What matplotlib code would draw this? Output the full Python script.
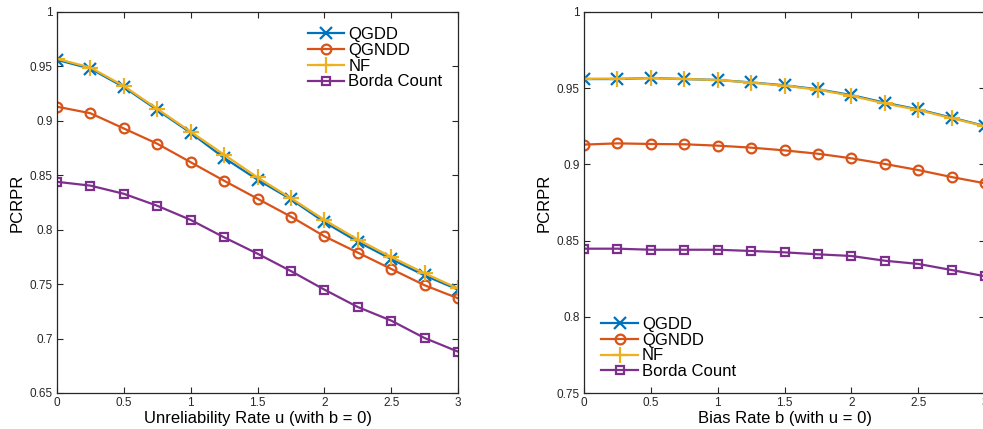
import matplotlib
matplotlib.use("Agg")
import matplotlib.pyplot as plt
import numpy as np

plt.rcParams["font.family"] = ["Liberation Sans", "DejaVu Sans"]

# x grid shared by both sweeps
rates = [0, 0.25, 0.5, 0.75, 1, 1.25, 1.5, 1.75, 2, 2.25, 2.5, 2.75, 3]

# sweep over unreliability rate u (b = 0)
u_qgdd = [0.956, 0.948, 0.931, 0.910, 0.889, 0.866, 0.846, 0.828, 0.807, 0.789, 0.773, 0.758, 0.745]
u_qgndd = [0.913, 0.907, 0.893, 0.879, 0.862, 0.845, 0.8285, 0.812, 0.794, 0.779, 0.764, 0.749, 0.737]
u_nf = [0.957, 0.949, 0.932, 0.911, 0.890, 0.869, 0.848, 0.829, 0.809, 0.791, 0.775, 0.760, 0.746]
u_borda = [0.844, 0.8405, 0.833, 0.822, 0.809, 0.793, 0.778, 0.762, 0.745, 0.729, 0.7165, 0.7005, 0.688]

# sweep over bias rate b (u = 0)
b_qgdd = [0.956, 0.956, 0.9567, 0.956, 0.9554, 0.9538, 0.9519, 0.9493, 0.9455, 0.9405, 0.9361, 0.9307, 0.9252]
b_qgndd = [0.913, 0.9138, 0.9134, 0.9132, 0.9123, 0.911, 0.9092, 0.907, 0.904, 0.9003, 0.8963, 0.8917, 0.8876]
b_nf = [0.9562, 0.9563, 0.9565, 0.9561, 0.9553, 0.9537, 0.9516, 0.9490, 0.9450, 0.9400, 0.9357, 0.9303, 0.9250]
b_borda = [0.8447, 0.8447, 0.844, 0.844, 0.844, 0.8432, 0.8423, 0.841, 0.8399, 0.8368, 0.8347, 0.8307, 0.8266]

names = ["QGDD", "QGNDD", "NF", "Borda Count"]
colors = ["#0072BD", "#D95319", "#EDB120", "#7E2F8E"]
markers = ["x", "o", "+", "s"]
msizes = [9, 7, 11, 6]


def draw(ax, series, xlabel, ylim, yticks, legend_loc, legend_anchor):
    for ys, name, c, m, ms in zip(series, names, colors, markers, msizes):
        ax.plot(rates, ys, color=c, marker=m, markersize=ms, linewidth=1.6,
                markerfacecolor="none", markeredgewidth=1.6, label=name)
    ax.set_xlim(0, 3)
    ax.set_ylim(*ylim)
    ax.set_xticks([0, 0.5, 1, 1.5, 2, 2.5, 3])
    ax.set_xticklabels(["0", "0.5", "1", "1.5", "2", "2.5", "3"])
    ax.set_yticks(yticks)
    ax.set_yticklabels([("%g" % t) for t in yticks])
    ax.tick_params(direction="in", top=True, right=True, labelsize=8.5,
                   length=4, width=0.8, colors="#262626", pad=3)
    for s in ax.spines.values():
        s.set_linewidth(0.9)
        s.set_color("#262626")
    ax.set_xlabel(xlabel, fontsize=12, labelpad=1)
    ax.set_ylabel("PCRPR", fontsize=12, labelpad=4)
    ax.legend(loc=legend_loc, bbox_to_anchor=legend_anchor, frameon=False,
              fontsize=12, handlelength=2.2, handletextpad=0.25,
              labelspacing=0.05, borderaxespad=0.2)


fig = plt.figure(figsize=(9.83, 4.29), dpi=100)
W, H = 983.0, 429.0
ax1 = fig.add_axes([57 / W, 36 / H, 401 / W, 381 / H])
ax2 = fig.add_axes([584 / W, 36 / H, 401 / W, 381 / H])

draw(ax1, [u_qgdd, u_qgndd, u_nf, u_borda], "Unreliability Rate u (with b = 0)",
     (0.65, 1.0), [0.65, 0.7, 0.75, 0.8, 0.85, 0.9, 0.95, 1.0],
     "upper left", (0.6, 0.987))
draw(ax2, [b_qgdd, b_qgndd, b_nf, b_borda], "Bias Rate b (with u = 0)",
     (0.75, 1.0), [0.75, 0.8, 0.85, 0.9, 0.95, 1.0],
     "lower left", (0.018, 0.01))

fig.savefig("out.png", dpi=100)
